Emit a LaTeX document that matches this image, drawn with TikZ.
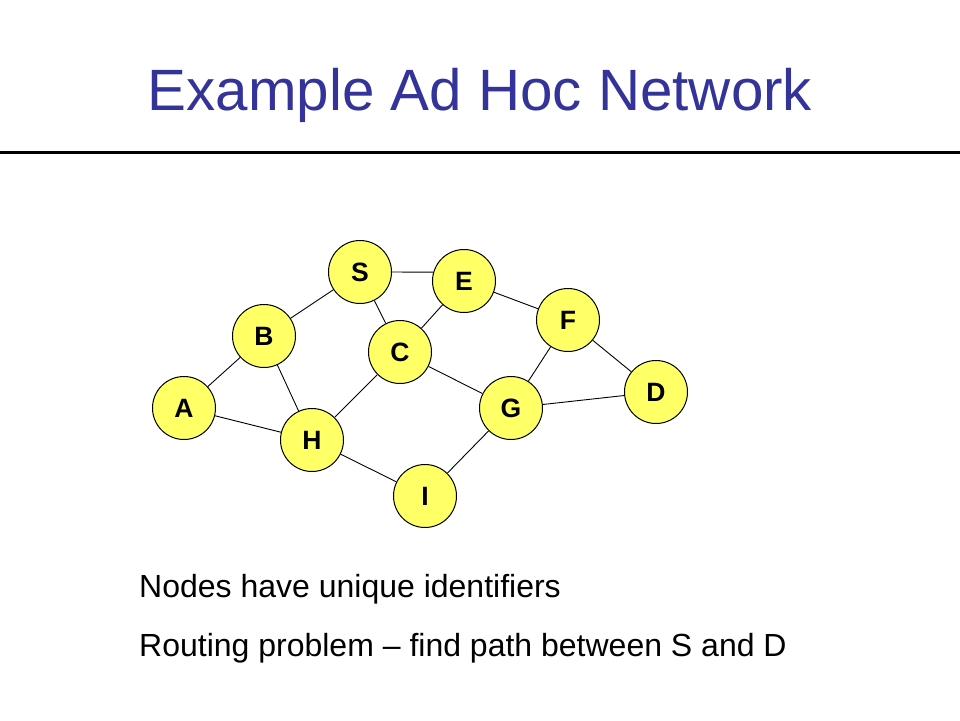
\documentclass[tikz,border=0pt]{standalone}
\usepackage{fontspec}
\setmainfont{Liberation Sans}
\definecolor{titleblue}{RGB}{51,51,153}
\definecolor{nodeyellow}{RGB}{255,255,102}
\begin{document}
\begin{tikzpicture}[x=1pt,y=-1pt,
  netnode/.style={circle,draw=black,line width=1pt,fill=nodeyellow,minimum size=63pt,inner sep=0pt,
    font=\fontsize{26.5}{26.5}\selectfont\bfseries},
  link/.style={draw=black,line width=0.9pt},
  bodytext/.style={anchor=base west,inner sep=0pt,font=\fontsize{32}{32}\selectfont}]
\useasboundingbox[fill=white] (0,0) rectangle (960,720);
\node[anchor=base,inner sep=0pt,text=titleblue,font=\fontsize{58.3}{58.3}\selectfont] (title) at (480,110) {Example Ad Hoc Network};
\coordinate (ruleL) at (0,152.5);
\coordinate (ruleR) at (960,152.5);
\draw[line width=3.3pt] (ruleL) -- (ruleR);
\node[netnode] (S) at (360,272) {S};
\node[netnode] (E) at (464,281) {E};
\node[netnode] (F) at (568,320) {F};
\node[netnode] (B) at (264,336) {B};
\node[netnode] (C) at (400,352) {C};
\node[netnode] (D) at (656,392) {D};
\node[netnode] (A) at (184,408) {A};
\node[netnode] (G) at (511,408) {G};
\node[netnode] (H) at (312,440) {H};
\node[netnode] (I) at (425,496) {I};
\path[link] (S.0) -- (E.164) (S) -- (B) (S) -- (C) (E) -- (C) (E) -- (F)
  (B) -- (A) (B) -- (H) (A) -- (H) (C) -- (H) (C) -- (G)
  (F) -- (G) (F) -- (D) (G) -- (D) (H) -- (I) (G) -- (I);
\node[bodytext] (l1) at (139,597) {Nodes have unique identifiers};
\node[bodytext] (l2) at (139,656) {Routing problem – find path between S and D};
\end{tikzpicture}
\end{document}
